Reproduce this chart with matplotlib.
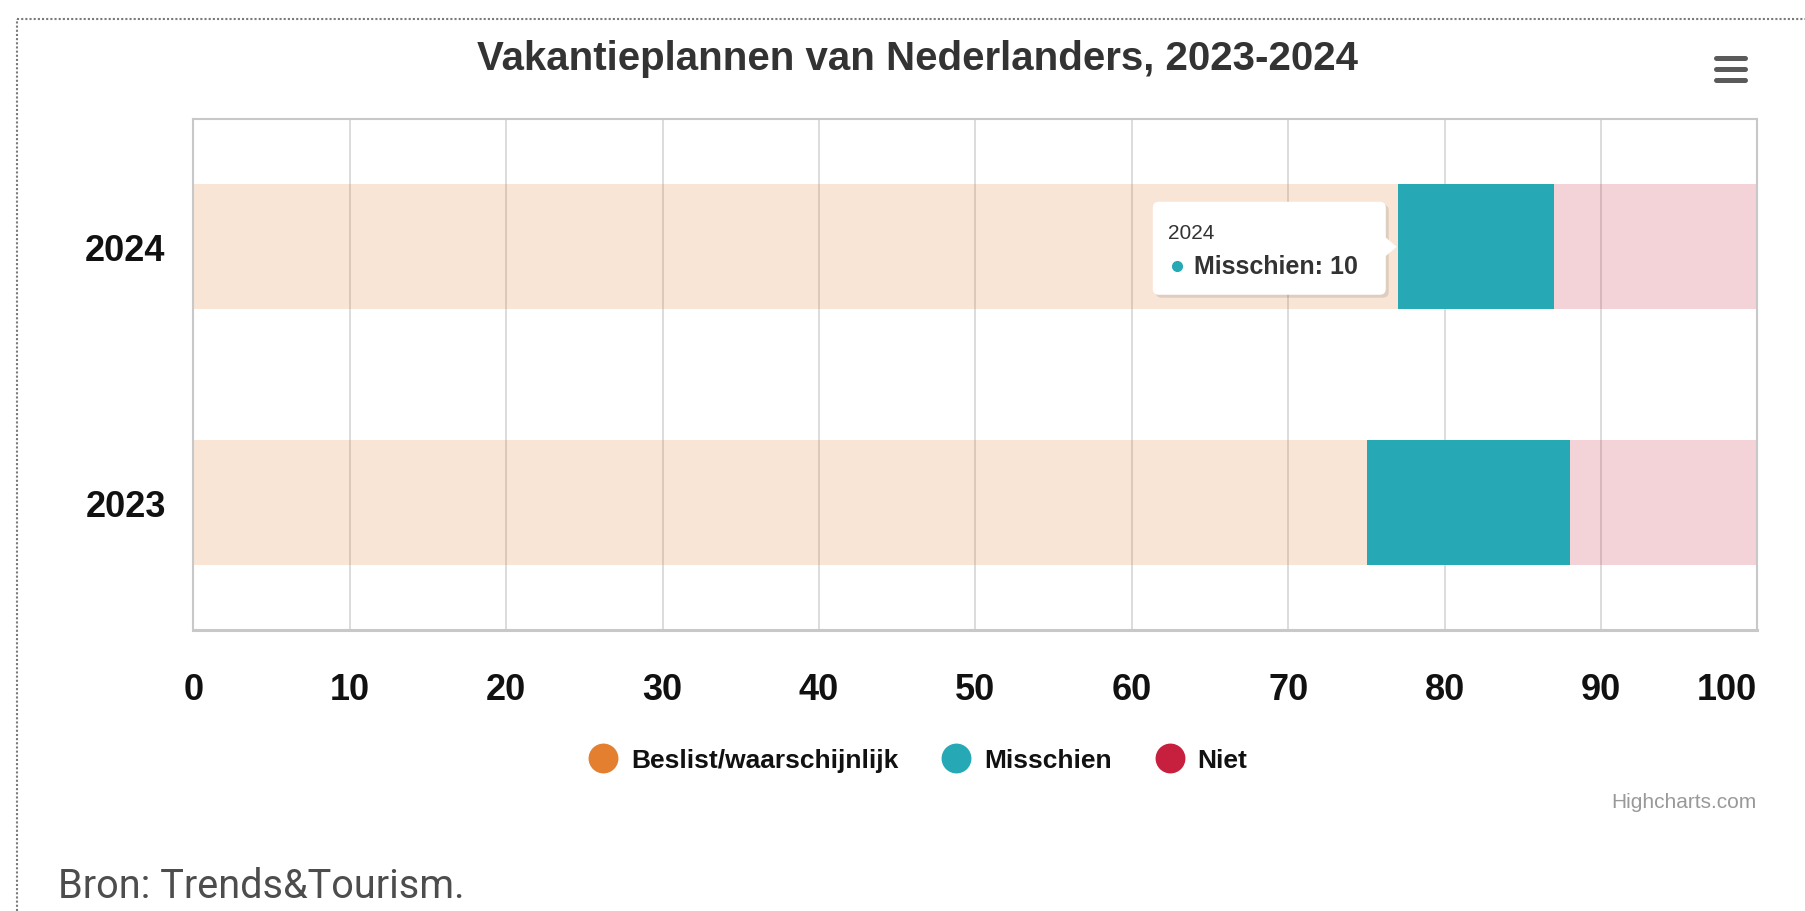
import matplotlib
matplotlib.use("Agg")
import matplotlib.pyplot as plt
import matplotlib.transforms as mtransforms
from matplotlib.lines import Line2D
from matplotlib.patches import FancyBboxPatch, Polygon

# data
years = ["2023", "2024"]
series_names = ["Beslist/waarschijnlijk", "Misschien", "Niet"]
beslist = [75, 77]
misschien = [13, 10]
niet = [12, 13]
series_values = [beslist, misschien, niet]
series_colors = ["#e47f2f", "#26a9b5", "#c7203f"]
series_alpha = [0.2, 1.0, 0.2]  # hover state: only Misschien active
x_ticks = list(range(0, 101, 10))

title = "Vakantieplannen van Nederlanders, 2023-2024"
source = "Bron: Trends&Tourism."
credits = "Highcharts.com"

W, H = 1806, 912
fig = plt.figure(figsize=(W / 100, H / 100), dpi=100)
fig.patch.set_facecolor("white")

ax = fig.add_axes([193.5 / W, 1 - 631 / H, 1564 / W, 511 / H])
ax.set_axisbelow(True)

ypos = list(range(len(years)))
left = [0] * len(years)
for name, vals, col, a in zip(series_names, series_values, series_colors, series_alpha):
    ax.barh(ypos, vals, left=left, height=0.49, color=col, alpha=a, linewidth=0)
    left = [l + v for l, v in zip(left, vals)]

ax.set_xlim(0, 100)
ax.set_ylim(-0.5, 1.5)
ax.set_xticks(x_ticks)
ax.set_xticklabels([str(t) for t in x_ticks])
ax.set_yticks(ypos)
ax.set_yticklabels(years)
ax.tick_params(axis="both", length=0, labelcolor="#111111")
ax.tick_params(axis="x", pad=30)
ax.tick_params(axis="y", pad=20)
for lab in ax.get_xticklabels() + ax.get_yticklabels():
    lab.set_fontfamily(["Liberation Sans", "DejaVu Sans"])
    lab.set_fontweight("bold")
    lab.set_fontsize(26)
# last label is kept inside the plot area, like Highcharts does
ax.get_xticklabels()[-1].set_horizontalalignment("right")
ax.grid(axis="x", color="#d6d6d6", linewidth=1.2)
for sp in ax.spines.values():
    sp.set_color("#c8c8c8")
    sp.set_linewidth(1.5)
ax.spines["bottom"].set_linewidth(2.2)

# tooltip on the 2024 Misschien segment
i_tip = years.index("2024")
anchor = mtransforms.ScaledTranslation(beslist[i_tip], ypos[i_tip], ax.transData)
tt = fig.dpi_scale_trans + anchor
shadow = FancyBboxPatch((-2.42, -0.51), 2.33, 0.93, boxstyle="round,pad=0,rounding_size=0.06",
                        fc="#000000", ec="none", alpha=0.10, transform=tt, zorder=5)
ax.add_patch(shadow)
box = FancyBboxPatch((-2.45, -0.48), 2.33, 0.93, boxstyle="round,pad=0,rounding_size=0.06",
                     fc="white", ec="none", transform=tt, zorder=6)
ax.add_patch(box)
ax.add_patch(Polygon([(-0.13, 0.1), (-0.01, 0.0), (-0.13, -0.1)], closed=True,
                     fc="white", ec="none", transform=tt, zorder=6))
ax.text(-2.30, 0.14, years[i_tip], transform=tt, fontsize=15, color="#333333",
        family=["Liberation Sans", "DejaVu Sans"], va="center", ha="left", zorder=7)
ax.plot([-2.21], [-0.19], marker="o", markersize=7, color=series_colors[1],
        transform=tt, zorder=7, linestyle="none")
ax.text(-2.04, -0.19, f"{series_names[1]}: {misschien[i_tip]}", transform=tt, fontsize=18,
        color="#333333", fontweight="bold", family=["Liberation Sans", "DejaVu Sans"],
        va="center", ha="left", zorder=7)

# title
fig.text(918 / W, 1 - 70 / H, title, ha="center", va="baseline", fontsize=29,
         fontweight="bold", color="#333333", family=["Liberation Sans", "DejaVu Sans"])

# legend
handles = [Line2D([], [], marker="o", linestyle="none", markersize=21.5,
                  markerfacecolor=c, markeredgecolor="none") for c in series_colors]
leg = fig.legend(handles, series_names, loc="center", bbox_to_anchor=(918 / W, 1 - 761 / H),
                 ncol=3, frameon=False, handlelength=1.1, handletextpad=0.5,
                 columnspacing=1.65, prop={"family": ["Liberation Sans", "DejaVu Sans"],
                                           "weight": "bold", "size": 19})
for t in leg.get_texts():
    t.set_color("#111111")

fig.text(1757 / W, 1 - 803 / H, credits, ha="right", va="center", fontsize=15,
         color="#999999", family=["Liberation Sans", "DejaVu Sans"])
fig.text(58 / W, 1 - 887 / H, source, ha="left", va="center", fontsize=28.5,
         color="#4d4d4d", family=["Roboto", "DejaVu Sans"])

# export menu icon
for yy in [59, 70, 81]:
    fig.add_artist(Line2D([1716.5 / W, 1745.5 / W], [1 - yy / H, 1 - yy / H], color="#5a5a5a",
                          linewidth=3.6, solid_capstyle="round"))

# dotted frame of the page element
fig.add_artist(Line2D([17 / W, 17 / W], [0, 1 - 20 / H], color="#7a7a7a", linewidth=1.5,
                      linestyle=(0, (1, 1))))
fig.add_artist(Line2D([17 / W, 1], [1 - 20 / H, 1 - 20 / H], color="#7a7a7a", linewidth=1.5,
                      linestyle=(0, (1, 1))))

fig.savefig("out.png", dpi=100)
